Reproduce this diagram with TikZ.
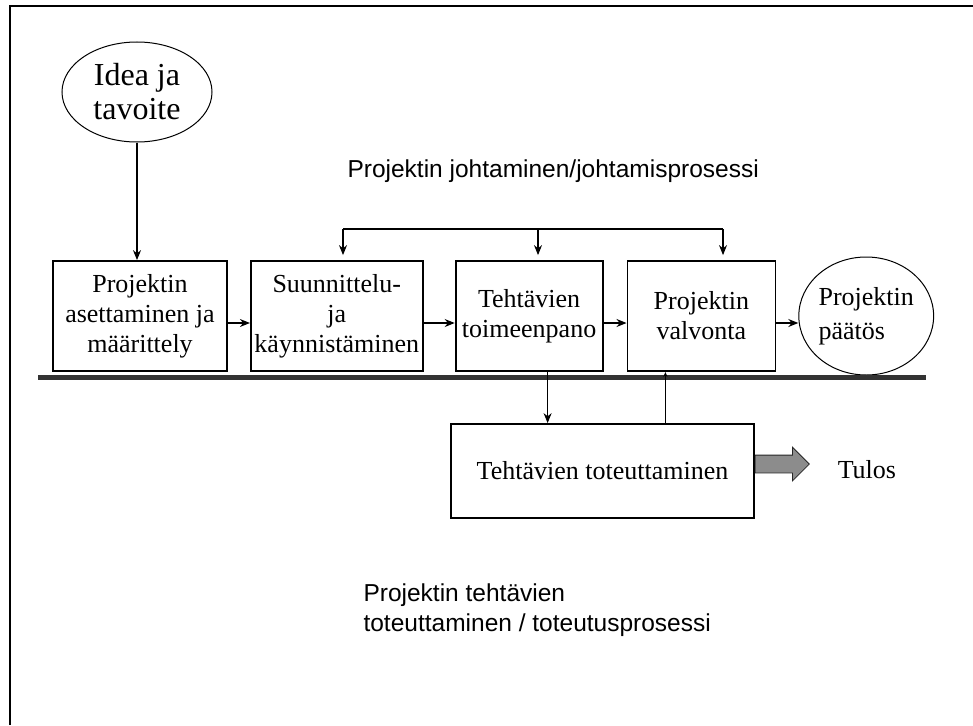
\documentclass[tikz,border=0pt]{standalone}
\usepackage{fontspec}
\setmainfont{Liberation Serif}
\setsansfont{Liberation Sans}
\usetikzlibrary{positioning,shapes.geometric,shapes.arrows,arrows.meta}

\begin{document}
\begin{tikzpicture}[x=1pt,y=-1pt,->,>={Stealth[length=10pt,width=8pt]},line width=1.1pt,
    box node/.style={rectangle,draw,fill=white,line width=1.8pt,minimum height=110pt,inner sep=2pt,align=center,font=\fontsize{26}{30}\selectfont},
    oval node/.style={ellipse,draw,line width=1pt,inner sep=0pt,font=\fontsize{26}{34}\selectfont},
    sans text/.style={inner sep=0pt,font=\sffamily\fontsize{24.5}{30}\selectfont}]
            \useasboundingbox (0,0) rectangle (973,725);
            \draw[-,line width=1.5pt] (10,725) -- (10,6) -- (973,6);

            \node [oval node, minimum width=150pt, minimum height=100pt, align=center, font=\fontsize{32}{34}\selectfont](idea) at (137,92) {Idea ja\\tavoite};
            \node [sans text, anchor=base west](johto) at (347,177) {Projektin johtaminen/johtamisprosessi};

            \node [box node, minimum width=174pt](b1) at (140,316) {Projektin\\asettaminen ja\\määrittely};
            \node [box node, minimum width=172pt](b2) [right=22pt of b1] {Suunnittelu-\\ja\\käynnistäminen};
            \node [box node, minimum width=147pt](b3) [right=31pt of b2] {Tehtävien\\toimeenpano};
            \node [box node, minimum width=148pt](b4) [right=23pt of b3] {Projektin\\valvonta};
            \node [oval node, minimum width=134pt, minimum height=118pt, align=left](ende) [right=22pt of b4] {Projektin\\päätös};

            \draw[-,line width=5pt,black!80] (38,377.5) -- (926,377.5);

            \node [box node, minimum width=303pt, minimum height=94pt](impl) at (602.5,471) {Tehtävien toteuttaminen};
            \node [single arrow, draw=black!85, fill=black!45, line width=0.8pt, minimum height=54pt, inner sep=8.5pt, single arrow head extend=8pt, anchor=west](tulosarrow) at ([yshift=7pt]impl.east) {};
            \node [font=\fontsize{26}{30}\selectfont](tulos) [right=24pt of tulosarrow, yshift=-6pt] {Tulos};

            \node [sans text, align=left, anchor=west](toteutus) at (363,610.5) {Projektin tehtävien\\toteuttaminen / toteutusprosessi};

            % feedback from the management process
            \coordinate (fbl) at (343,229);
            \coordinate (fbm) at (538,229);
            \coordinate (fbr) at (723,229);
            \coordinate (dn) at ([xshift=18.5pt]b3.south);
            \coordinate (up) at ([xshift=-36pt]b4.south);
            \draw[-] (fbl) -- (fbr);

            \path[shorten >=5pt]
                (fbl) edge (fbl |- b2.north)
                (fbm) edge (fbm |- b3.north)
                (fbr) edge (fbr |- b4.north);

            \path
                (idea) edge (idea |- b1.north)
                ([yshift=-7pt]b1.east) edge ([yshift=-7pt]b2.west)
                ([yshift=-7pt]b2.east) edge ([yshift=-7pt]b3.west)
                ([yshift=-7pt]b3.east) edge ([yshift=-7pt]b4.west)
                ([yshift=-7pt]b4.east) edge ([yshift=-7pt]ende.west)
                (dn) edge (dn |- impl.north)
                (up |- impl.north) edge[line width=0.7pt, >={Stealth[length=5pt,width=4pt]}] (up)
                ;
        \end{tikzpicture}
\end{document}
